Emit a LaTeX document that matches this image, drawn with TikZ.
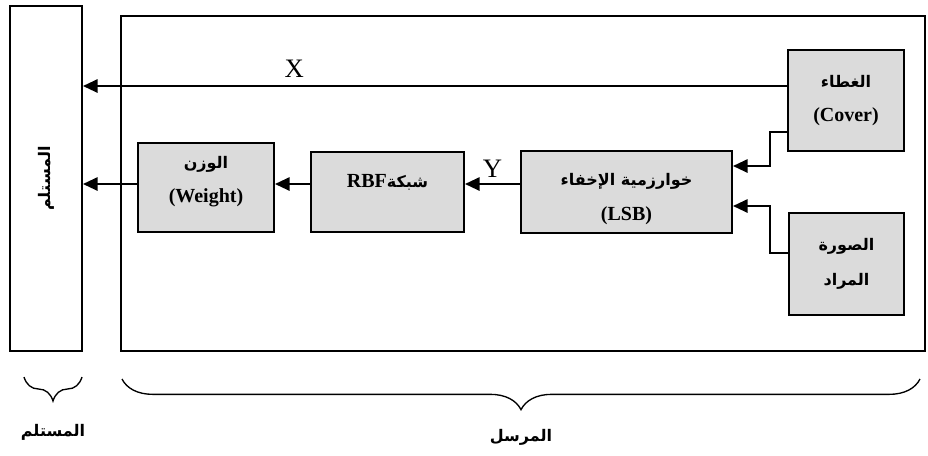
\documentclass[tikz,border=0pt]{standalone}
\usepackage{fontspec}
\setmainfont{Liberation Serif}
\newfontfamily\arabicfont[Script=Arabic]{DejaVu Sans}
\TeXXeTstate=1
\usetikzlibrary{arrows.meta,calc,decorations.pathreplacing}

\newcommand{\artxt}[1]{{\arabicfont\bfseries\fontsize{12}{26}\selectfont\beginR #1\endR}}

\begin{document}
\begin{tikzpicture}[x=0.75pt,y=-0.75pt,line width=1.5pt,
       >={Triangle[length=11pt,width=10pt]}]
       \tikzstyle{block}=[draw, fill=black!14, inner sep=0pt, align=center,
              font=\bfseries\fontsize{15}{26}\selectfont]
       \tikzstyle{frame}=[draw, inner sep=0pt]
       \tikzstyle{part}=[decorate, line width=1pt]
       \tikzstyle{letter}=[font=\fontsize{20}{22}\selectfont]

       \useasboundingbox (0,0) rectangle (928,455);

       % receiver and sender
       \node[frame, minimum width=72*0.75pt, minimum height=345*0.75pt] (rx) at (46,178.5) {};
       \node[rotate=90] (rxname) at (rx.center) {\artxt{المستلم}};
       \node[frame, minimum width=804*0.75pt, minimum height=335*0.75pt] (tx) at (523,183.5) {};

       % blocks
       \node[block, minimum width=136*0.75pt, minimum height=89*0.75pt, text depth=12pt] (weight) at (206,187.5)
              {\artxt{الوزن}\\(Weight)};
       \node[block, minimum width=153*0.75pt, minimum height=80*0.75pt, text depth=16pt] (rbf) at (387.5,192)
              {\artxt{شبكة\beginL{\rmfamily\fontsize{15}{26}\selectfont RBF}\endL}};
       \node[block, minimum width=211*0.75pt, minimum height=82*0.75pt] (lsb) at (626.5,192)
              {\rule{0pt}{20pt}\artxt{خوارزمية الإخفاء}\\(LSB)};
       \node[block, minimum width=116*0.75pt, minimum height=101*0.75pt] (cover) at (846,100.5)
              {\artxt{الغطاء}\\(Cover)};
       \node[block, minimum width=115*0.75pt, minimum height=102*0.75pt] (secret) at (846.5,264)
              {\artxt{الصورة}\\\artxt{المراد}};

       \coordinate (xline) at (0,86);
       \coordinate (yline) at (0,184);

       \draw[->] (cover.west |- xline) -- (rx.east |- xline)
              node[pos=0.70, above=2pt, letter] (xlab) {X};
       \draw[->] (weight.west |- yline) -- (rx.east |- yline);
       \draw[->] (rbf.west |- yline) -- (weight.east |- yline);
       \draw[->] (lsb.west |- yline) -- (rbf.east |- yline)
              node[midway, above=1pt, letter] (ylab) {Y};
       \draw[->] ($(cover.south west)+(0,-20)$) -- ++(-17,0) |- ($(lsb.east)+(0,-26)$);
       \draw[->] ($(secret.west)+(0,-11)$) -- ++(-18,0) |- ($(lsb.east)+(0,14)$);

       % braces
       \draw[part, decoration={brace, mirror, amplitude=18pt}] (24,377) -- (82,377)
              node[midway, below=32pt] (rxpart) {\artxt{المستلم}};
       \draw[part, decoration={brace, mirror, amplitude=23pt}] (122,379) -- (920,379)
              node[midway, below=34pt] (txpart) {\artxt{المرسل}};

\end{tikzpicture}
\end{document}
